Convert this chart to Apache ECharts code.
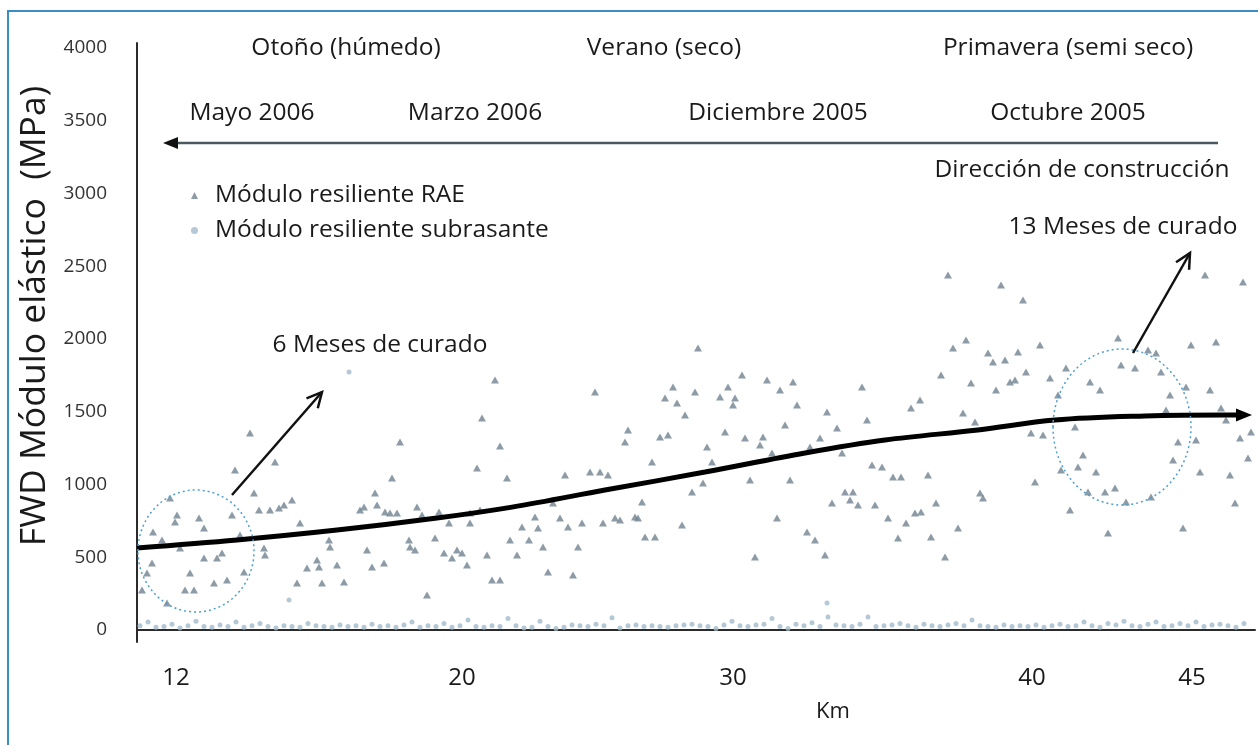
<!DOCTYPE html>
<html>
<head>
<meta charset="utf-8">
<title>FWD Módulo elástico</title>
<script src="https://cdn.jsdelivr.net/npm/echarts@6/dist/echarts.min.js"></script>
<style>
  html, body { margin: 0; padding: 0; background: #fff; }
  #main { width: 1258px; height: 745px; }
</style>
</head>
<body>
<div id="main"></div>
<script>
// posiciones a lo largo del tramo (unidades del eje, 0 = inicio del gráfico)
var kmTickPos = [3.9, 32.5, 59.6, 89.5, 105.5];
var kmTickLabels = ['12', '20', '30', '40', '45'];
var yTicks = [0, 500, 1000, 1500, 2000, 2500, 3000, 3500, 4000];

// Módulo resiliente RAE [posición, MPa]
var raeData = [
  [35.8,1718],[34.5,1457],[26.3,1292],[36.3,1265],[11.3,1354],[13.8,1155],[9.8,1100],[34.0,1113],
  [37.0,1045],[11.7,942],[25.5,1045],[23.8,942],[15.5,893],[14.7,859],[14.2,839],[13.3,825],
  [12.2,825],[16.3,735],[22.3,825],[22.7,845],[24.0,859],[24.8,811],[25.3,804],[26.0,804],
  [28.0,845],[28.5,790],[30.2,811],[31.2,735],[33.3,804],[33.3,735],[34.3,825],[3.3,907],
  [4.0,790],[6.2,770],[6.7,701],[9.5,790],[10.3,653],[2.5,619],[4.3,564],[6.7,495],
  [8.0,495],[8.5,529],[12.7,564],[12.8,515],[19.2,619],[19.3,570],[17.0,426],[18.0,481],
  [18.2,433],[20.0,447],[23.0,550],[23.5,433],[24.7,460],[27.2,619],[27.3,570],[27.8,550],
  [29.8,632],[30.7,529],[31.5,495],[32.0,550],[32.5,529],[33.0,447],[35.0,515],[37.3,619],
  [1.0,392],[5.3,392],[7.7,323],[9.0,344],[10.7,399],[16.0,323],[18.5,323],[20.7,330],
  [0.5,275],[4.8,275],[5.7,275],[3.0,186],[29.0,241],[35.5,344],[36.3,344],[1.5,460],
  [1.6,674],[3.8,742],
  [56.1,1938],[45.8,1636],[53.6,1670],[52.8,1595],[54.0,1560],[55.8,1636],[54.8,1478],[60.5,1753],
  [59.1,1670],[58.3,1601],[59.8,1595],[59.6,1546],[63.0,1718],[64.3,1650],[65.6,1704],[66.0,1546],
  [64.8,1409],[72.5,1670],[73.0,1443],[69.0,1498],[70.0,1388],[49.1,1375],[48.8,1292],[52.3,1326],
  [53.1,1340],[58.8,1361],[60.8,1320],[62.6,1326],[62.3,1271],[63.5,1217],[68.3,1320],[67.3,1258],
  [57.0,1258],[57.5,1155],[51.5,1155],[70.5,1217],[73.5,1134],[74.5,1120],[42.8,1065],[45.3,1086],
  [46.3,1086],[47.1,1065],[55.5,948],[56.6,1010],[61.3,1031],[65.3,1031],[70.8,948],[71.6,948],
  [71.3,893],[72.1,859],[69.5,873],[73.8,859],[41.6,873],[50.5,880],[39.8,777],[38.5,708],
  [40.1,701],[42.3,770],[43.1,708],[44.5,735],[46.6,735],[47.8,770],[48.3,756],[49.8,777],
  [50.1,770],[39.2,619],[40.6,570],[44.1,570],[38.0,515],[50.8,639],[51.8,639],[54.5,722],
  [64.0,770],[67.0,674],[67.8,619],[68.8,515],[61.8,502],[41.1,399],[43.6,378],
  [81.1,2440],[86.4,2371],[88.6,2268],[106.8,2440],[110.6,2392],[82.9,1993],[81.6,1938],[85.1,1904],
  [85.6,1842],[86.8,1856],[88.1,1911],[90.3,1959],[98.1,2007],[101.1,1924],[101.9,1904],[105.4,1959],
  [107.9,1979],[80.4,1753],[83.4,1698],[85.9,1650],[87.3,1704],[87.8,1718],[88.9,1773],[91.3,1732],
  [92.9,1801],[92.1,1615],[95.3,1704],[96.3,1650],[98.4,1821],[99.8,1801],[102.4,1773],[103.3,1615],
  [104.9,1670],[107.3,1650],[77.4,1526],[78.3,1581],[82.6,1491],[83.8,1430],[89.4,1354],[90.6,1340],
  [93.8,1395],[102.9,1512],[105.9,1306],[108.4,1526],[108.9,1443],[110.3,1320],[111.4,1361],[111.1,1182],
  [104.1,1292],[103.6,1168],[106.3,1086],[109.3,1065],[109.8,873],[75.6,1052],[76.4,1052],[79.1,1065],
  [89.8,1017],[92.4,1100],[94.6,1203],[94.1,1120],[95.9,1086],[84.3,942],[84.6,907],[79.9,873],
  [78.4,811],[77.8,804],[75.1,770],[76.9,735],[82.1,701],[76.1,632],[79.4,639],[80.8,502],
  [93.3,825],[95.1,948],[96.8,948],[97.8,976],[98.9,880],[101.4,914],[97.1,667],[104.6,701]
];

// Módulo resiliente subrasante, lecturas cada 0.8 unidades desde 0.3
var subStart = 0.3;
var subStep = 0.8;
var subValues = [
  30,55,20,25,40,15,30,60,25,20,
  35,25,55,20,30,45,25,15,30,25,
  20,45,30,25,20,35,25,30,20,40,
  25,30,20,35,55,20,30,25,45,20,
  30,70,25,20,30,25,80,30,15,20,
  60,25,10,20,35,30,25,40,30,85,
  15,30,35,25,30,25,20,30,35,40,
  30,25,10,35,60,30,25,35,40,80,
  25,10,40,30,50,25,90,35,30,25,
  40,90,25,30,35,45,30,20,40,30,
  25,35,45,30,70,30,25,20,35,25,
  30,25,35,20,30,40,25,30,55,30,
  20,45,35,60,30,25,40,55,25,30,
  45,30,55,25,35,40,30,20,45
];
var subOutliers = [[15.2,206],[69.0,186],[21.2,1773]];

// tendencia
var trendX = [0, 10, 20, 30, 37.5, 46.8, 56.8, 66.8, 74.8, 84.1, 91.8, 100.8, 108.8, 110.7];
var trendY = [564, 619, 687, 770, 845, 962, 1086, 1217, 1306, 1375, 1443, 1471, 1478, 1478];

var FONT = '"Open Sans"';
var TXT = 24.5;

var subData = [];
for (var i = 0; i < subValues.length; i++) {
  subData.push([+(subStart + i * subStep).toFixed(2), subValues[i]]);
}
subData = subData.concat(subOutliers);

var trendData = [];
for (var j = 0; j < trendX.length; j++) {
  if (j === trendX.length - 1) {
    trendData.push({
      value: [trendX[j], trendY[j]],
      symbol: 'triangle', symbolSize: [13, 16], symbolRotate: -90,
      itemStyle: { color: '#000' }
    });
  } else {
    trendData.push([trendX[j], trendY[j]]);
  }
}

function txt(s, x, y, size) {
  return {
    type: 'text', x: x, y: y, z: 20,
    style: { text: s, font: (size || TXT) + 'px ' + FONT, fill: '#1a1a1a', align: 'center', verticalAlign: 'middle' }
  };
}

// flecha con punta abierta
function arrow(x1, y1, x2, y2, head) {
  var dx = x2 - x1, dy = y2 - y1, len = Math.sqrt(dx * dx + dy * dy);
  var ux = dx / len, uy = dy / len, px = -uy, py = ux;
  var bx = x2 - ux * head, by = y2 - uy * head;
  return [
    { type: 'line', z: 20, shape: { x1: x1, y1: y1, x2: x2, y2: y2 }, style: { stroke: '#111', lineWidth: 2.5 } },
    { type: 'polyline', z: 20,
      shape: { points: [[bx + px * head * 0.5, by + py * head * 0.5], [x2, y2], [bx - px * head * 0.5, by - py * head * 0.5]] },
      style: { stroke: '#111', lineWidth: 2.5, fill: null } }
  ];
}

var graphics = [
  { type: 'rect', z: 0, shape: { x: 8, y: 11, width: 1270, height: 760 }, style: { stroke: '#3b8ec2', lineWidth: 2, fill: null } },
  txt('Otoño (húmedo)', 346, 48),
  txt('Verano (seco)', 664, 48),
  txt('Primavera (semi seco)', 1068, 48),
  txt('Mayo 2006', 252, 113),
  txt('Marzo 2006', 475, 113),
  txt('Diciembre 2005', 778, 113),
  txt('Octubre 2005', 1068, 113),
  txt('Dirección de construcción', 1082, 170),
  txt('13 Meses de curado', 1123, 227),
  txt('6 Meses de curado', 380, 345),
  txt('Km', 833, 712, 22),
  {
    type: 'text', x: 35, y: 316, rotation: Math.PI / 2, z: 20,
    style: { text: 'FWD Módulo elástico  (MPa)', font: '35.5px ' + FONT, fill: '#1a1a1a', align: 'center', verticalAlign: 'middle' }
  },
  // dirección de construcción
  { type: 'line', z: 20, shape: { x1: 1218, y1: 143, x2: 176, y2: 143 }, style: { stroke: '#4a5862', lineWidth: 2.5 } },
  { type: 'polygon', z: 20, shape: { points: [[163, 143], [178, 137], [178, 149]] }, style: { fill: '#111' } },
  // zonas de curado
  { type: 'ellipse', z: 15, shape: { cx: 196, cy: 551, rx: 58, ry: 61 }, style: { stroke: '#4e9fd0', lineWidth: 1.5, lineDash: [2, 3], fill: null } },
  { type: 'ellipse', z: 15, shape: { cx: 1122, cy: 427, rx: 69, ry: 78 }, style: { stroke: '#4e9fd0', lineWidth: 1.5, lineDash: [2, 3], fill: null } }
].concat(arrow(232, 495, 322, 392, 15)).concat(arrow(1133, 353, 1190, 253, 15));

var chart = echarts.init(document.getElementById('main'));
chart.setOption({
  backgroundColor: '#fff',
  animation: false,
  grid: { left: 137, right: 3, top: 43, bottom: 103 },
  legend: {
    orient: 'vertical', left: 186, top: 178, itemWidth: 7, itemHeight: 7, itemGap: 10,
    data: ['Módulo resiliente RAE', 'Módulo resiliente subrasante'],
    textStyle: { fontFamily: FONT, fontSize: TXT, color: '#1a1a1a', padding: [0, 0, 0, 12] }
  },
  xAxis: {
    type: 'value', min: 0, max: 111.8,
    splitLine: { show: false },
    axisTick: { show: false },
    axisLine: { lineStyle: { color: '#2b2b2b', width: 2 } },
    axisLabel: {
      customValues: kmTickPos,
      margin: 24,
      fontFamily: FONT, fontSize: 24, color: '#1a1a1a',
      formatter: function (v) {
        for (var k = 0; k < kmTickPos.length; k++) {
          if (Math.abs(kmTickPos[k] - v) < 0.01) return kmTickLabels[k];
        }
        return '';
      }
    }
  },
  yAxis: {
    type: 'value', min: -82, max: 4034,
    splitLine: { show: false },
    axisTick: { show: false },
    axisLine: { show: true, lineStyle: { color: '#2b2b2b', width: 2 } },
    axisLabel: {
      customValues: yTicks,
      margin: 30,
      fontFamily: FONT, fontSize: 19, color: '#333',
      formatter: function (v) { return String(v); }
    }
  },
  series: [
    {
      name: 'Módulo resiliente RAE', type: 'scatter', data: raeData,
      symbol: 'triangle', symbolSize: [8, 7],
      itemStyle: { color: '#6f8290' }, z: 3
    },
    {
      name: 'Módulo resiliente subrasante', type: 'scatter', data: subData,
      symbol: 'circle', symbolSize: 5,
      itemStyle: { color: '#a3bacb' }, z: 2
    },
    {
      name: 'Tendencia', type: 'line', data: trendData, smooth: 0.35,
      symbol: 'none', showSymbol: true,
      lineStyle: { color: '#000', width: 5 }, z: 10
    }
  ],
  graphic: graphics
});
</script>
</body>
</html>
